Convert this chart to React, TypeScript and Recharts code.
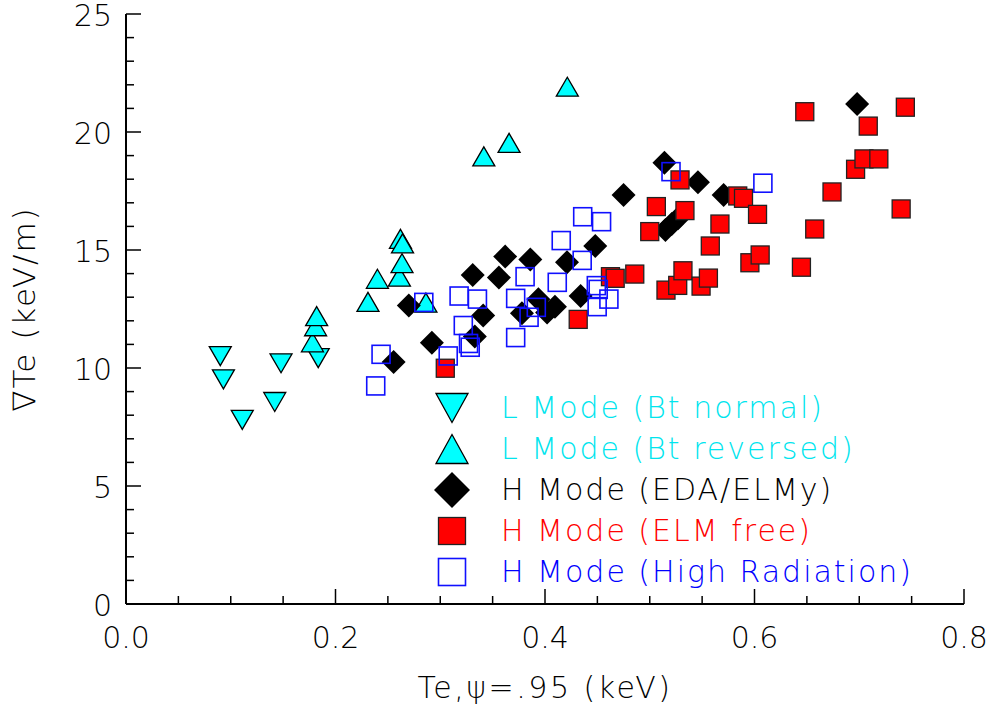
import React from 'react';
import { ScatterChart, Scatter, XAxis, YAxis, Legend } from 'recharts';

// L mode, Bt normal (down triangles)
const lModeNormal = [
  { x: 0.090, y: 10.5 }, { x: 0.093, y: 9.52 }, { x: 0.111, y: 7.8 },
  { x: 0.142, y: 8.56 }, { x: 0.148, y: 10.2 }, { x: 0.1835, y: 10.42 },
];

// L mode, Bt reversed (up triangles)
const lModeReversed = [
  { x: 0.178, y: 11.09 }, { x: 0.181, y: 11.77 }, { x: 0.182, y: 12.2 },
  { x: 0.231, y: 12.8 }, { x: 0.240, y: 13.78 }, { x: 0.261, y: 13.87 },
  { x: 0.2635, y: 14.44 }, { x: 0.262, y: 15.47 }, { x: 0.264, y: 15.28 },
  { x: 0.2863, y: 12.77 }, { x: 0.3416, y: 18.97 }, { x: 0.3657, y: 19.54 },
  { x: 0.4213, y: 21.92 },
];

// H mode EDA / ELMy (black diamonds)
const hModeEda = [
  { x: 0.2555, y: 10.25 }, { x: 0.27, y: 12.65 }, { x: 0.292, y: 11.07 },
  { x: 0.333, y: 11.33 }, { x: 0.341, y: 12.22 }, { x: 0.331, y: 13.94 },
  { x: 0.356, y: 13.83 }, { x: 0.362, y: 14.72 }, { x: 0.378, y: 12.32 },
  { x: 0.386, y: 14.6 }, { x: 0.3937, y: 12.91 }, { x: 0.402, y: 12.35 },
  { x: 0.4095, y: 12.6 }, { x: 0.421, y: 14.48 }, { x: 0.434, y: 13.05 },
  { x: 0.448, y: 15.17 }, { x: 0.475, y: 17.33 }, { x: 0.514, y: 18.7 },
  { x: 0.515, y: 15.85 }, { x: 0.521, y: 16.1 }, { x: 0.527, y: 16.35 },
  { x: 0.546, y: 17.87 }, { x: 0.5705, y: 17.33 }, { x: 0.698, y: 21.19 },
];

// H mode ELM free (red squares)
const hModeElmFree = [
  { x: 0.3048, y: 9.99 }, { x: 0.4317, y: 12.06 }, { x: 0.4625, y: 13.87 },
  { x: 0.467, y: 13.8 }, { x: 0.4857, y: 13.98 }, { x: 0.5, y: 15.78 },
  { x: 0.5063, y: 16.84 }, { x: 0.5155, y: 13.3 }, { x: 0.5267, y: 13.5 },
  { x: 0.5289, y: 17.97 }, { x: 0.5317, y: 14.12 }, { x: 0.5336, y: 16.67 },
  { x: 0.549, y: 13.47 }, { x: 0.556, y: 13.81 }, { x: 0.5578, y: 15.17 },
  { x: 0.567, y: 16.1 }, { x: 0.584, y: 17.29 }, { x: 0.5895, y: 17.19 },
  { x: 0.5956, y: 14.46 }, { x: 0.6029, y: 16.51 }, { x: 0.6054, y: 14.79 },
  { x: 0.6448, y: 14.27 }, { x: 0.648, y: 20.86 }, { x: 0.6575, y: 15.89 },
  { x: 0.674, y: 17.46 }, { x: 0.6965, y: 18.42 }, { x: 0.7045, y: 18.86 },
  { x: 0.7086, y: 20.25 }, { x: 0.7187, y: 18.86 }, { x: 0.74, y: 16.74 },
  { x: 0.744, y: 21.05 },
];

// H mode high radiation (open blue squares)
const hModeHighRad = [
  { x: 0.2384, y: 9.24 }, { x: 0.2435, y: 10.58 }, { x: 0.2843, y: 12.78 },
  { x: 0.3076, y: 10.51 }, { x: 0.318, y: 13.05 }, { x: 0.3355, y: 12.92 },
  { x: 0.322, y: 11.8 }, { x: 0.327, y: 11.04 }, { x: 0.3286, y: 10.88 },
  { x: 0.372, y: 12.95 }, { x: 0.381, y: 13.87 }, { x: 0.3917, y: 12.57 },
  { x: 0.3848, y: 12.15 }, { x: 0.372, y: 11.29 }, { x: 0.4117, y: 13.63 },
  { x: 0.4155, y: 15.4 }, { x: 0.4355, y: 14.56 }, { x: 0.436, y: 16.41 },
  { x: 0.454, y: 16.2 }, { x: 0.449, y: 13.49 }, { x: 0.4508, y: 13.33 },
  { x: 0.461, y: 12.92 }, { x: 0.4498, y: 12.6 }, { x: 0.5203, y: 18.32 },
  { x: 0.608, y: 17.83 },
];

const xTicks = [0, 0.05, 0.1, 0.15, 0.2, 0.25, 0.3, 0.35, 0.4, 0.45, 0.5, 0.55, 0.6, 0.65, 0.7, 0.75, 0.8];
const xMajor = [0, 0.2, 0.4, 0.6, 0.8];
const yTicks = [0, 1, 2, 3, 4, 5, 6, 7, 8, 9, 10, 11, 12, 13, 14, 15, 16, 17, 18, 19, 20, 21, 22, 23, 24, 25];
const yMajor = [0, 5, 10, 15, 20, 25];

const legendRows = [
  { key: 'down', label: 'L Mode (Bt normal)', color: '#00e5ee' },
  { key: 'up', label: 'L Mode (Bt reversed)', color: '#00e5ee' },
  { key: 'diamond', label: 'H Mode (EDA/ELMy)', color: '#000000' },
  { key: 'red', label: 'H Mode (ELM free)', color: '#ff0000' },
  { key: 'blue', label: 'H Mode (High Radiation)', color: '#0000ff' },
];

const FONT = '"DejaVu Sans", sans-serif';
const CYAN = '#00ffff';

const isMajor = (v: number, list: number[]) => list.some((m) => Math.abs(m - v) < 1e-6);

function DownTri({ cx, cy, w = 22, h = 19 }: any) {
  return <polygon points={`${cx - w / 2},${cy - h / 2} ${cx + w / 2},${cy - h / 2} ${cx},${cy + h / 2}`} fill={CYAN} stroke="#000" strokeWidth={1.3} />;
}
function UpTri({ cx, cy, w = 22, h = 19 }: any) {
  return <polygon points={`${cx - w / 2},${cy + h / 2} ${cx + w / 2},${cy + h / 2} ${cx},${cy - h / 2}`} fill={CYAN} stroke="#000" strokeWidth={1.3} />;
}
function Diamond({ cx, cy, r = 12 }: any) {
  return <polygon points={`${cx},${cy - r} ${cx + r},${cy} ${cx},${cy + r} ${cx - r},${cy}`} fill="#000" />;
}
function RedSq({ cx, cy, s = 18 }: any) {
  return <rect x={cx - s / 2} y={cy - s / 2} width={s} height={s} fill="#ff0000" stroke="#222" strokeWidth={1.3} />;
}
function BlueSq({ cx, cy, s = 18 }: any) {
  return <rect x={cx - s / 2} y={cy - s / 2} width={s} height={s} fill="none" stroke="#1010ff" strokeWidth={1.6} />;
}

function BottomTick({ x, y, payload }: any) {
  const major = isMajor(payload.value, xMajor);
  return (
    <g>
      <line x1={x} x2={x} y1={y} y2={y - (major ? 15 : 8)} stroke="#000" strokeWidth={1.5} />
      {major && (
        <text x={x} y={y + 44} textAnchor="middle" fontSize={30} fontFamily={FONT} fontWeight={200} fill="#000">
          {payload.value.toFixed(1)}
        </text>
      )}
    </g>
  );
}
function TopTick({ x, y, payload }: any) {
  const major = isMajor(payload.value, xMajor);
  return <line x1={x} x2={x} y1={y} y2={y + (major ? 15 : 8)} stroke="#000" strokeWidth={1.5} />;
}
function LeftTick({ x, y, payload }: any) {
  const major = isMajor(payload.value, yMajor);
  return (
    <g>
      <line x1={x} x2={x + (major ? 15 : 8)} y1={y} y2={y} stroke="#000" strokeWidth={1.5} />
      {major && (
        <text x={x - 14} y={y + 12} textAnchor="end" fontSize={30} fontFamily={FONT} fontWeight={200} fill="#000">
          {payload.value}
        </text>
      )}
    </g>
  );
}
function RightTick({ x, y, payload }: any) {
  const major = isMajor(payload.value, yMajor);
  return <line x1={x} x2={x - (major ? 15 : 8)} y1={y} y2={y} stroke="#000" strokeWidth={1.5} />;
}

function LegendMarker({ kind }: { kind: string }) {
  if (kind === 'down') return <DownTri cx={22} cy={20} w={32} h={29} />;
  if (kind === 'up') return <UpTri cx={22} cy={20} w={32} h={29} />;
  if (kind === 'diamond') return <Diamond cx={22} cy={20} r={18} />;
  if (kind === 'red') return <RedSq cx={22} cy={20} s={27} />;
  return <BlueSq cx={22} cy={20} s={27} />;
}

function renderLegend() {
  return (
    <div style={{ fontFamily: FONT, fontWeight: 200 }}>
      {legendRows.map((r) => (
        <div key={r.key} style={{ display: 'flex', alignItems: 'center', height: 41 }}>
          <svg width={44} height={40} style={{ overflow: 'visible' }}>
            <LegendMarker kind={r.key} />
          </svg>
          <span style={{ color: r.color, fontSize: 30, letterSpacing: 2, marginLeft: 27, whiteSpace: 'nowrap' }}>{r.label}</span>
        </div>
      ))}
    </div>
  );
}

export default function App() {
  return (
    <div style={{ position: 'absolute', left: 0, top: 0, width: 991, height: 706, background: '#fff' }}>
      <ScatterChart width={991} height={706} margin={{ top: 14, right: 27, bottom: 0, left: 0 }}>
        <XAxis
          type="number" dataKey="x" domain={[0, 0.8]} ticks={xTicks} interval={0} allowDataOverflow
          height={102} tickSize={0} tickMargin={0} tick={<BottomTick />} tickLine={false}
          axisLine={{ stroke: '#000', strokeWidth: 2 }}
          label={{ value: 'Te,ψ=.95 (keV)', position: 'insideBottom', offset: 8, fontSize: 30, fontFamily: FONT, fontWeight: 200, fill: '#000', style: { letterSpacing: 2.5 } }}
        />
        <XAxis
          xAxisId="top" orientation="top" type="number" domain={[0, 0.8]} ticks={xTicks} interval={0} allowDataOverflow
          height={0} tickSize={0} tickMargin={0} tick={<TopTick />} tickLine={false}
          axisLine={{ stroke: '#000', strokeWidth: 2 }}
        />
        <YAxis
          type="number" dataKey="y" domain={[0, 25]} ticks={yTicks} interval={0} allowDataOverflow
          width={126} tickSize={0} tickMargin={0} tick={<LeftTick />} tickLine={false}
          axisLine={{ stroke: '#000', strokeWidth: 2 }}
          label={{ value: '∇Te (keV/m)', angle: -90, position: 'insideLeft', offset: 24, fontSize: 31, fontFamily: FONT, fontWeight: 200, fill: '#000', style: { textAnchor: 'middle', letterSpacing: 2 } }}
        />
        <YAxis
          yAxisId="right" orientation="right" type="number" domain={[0, 25]} ticks={yTicks} interval={0} allowDataOverflow
          width={0} tickSize={0} tickMargin={0} tick={<RightTick />} tickLine={false}
          axisLine={{ stroke: '#000', strokeWidth: 2 }}
        />
        <Legend
          layout="vertical" align="center" verticalAlign="middle" content={renderLegend}
          wrapperStyle={{ left: 430, top: 387, width: 520 }}
        />
        <Scatter data={lModeNormal} isAnimationActive={false} shape={(p: any) => <DownTri cx={p.cx} cy={p.cy} />} />
        <Scatter data={lModeReversed} isAnimationActive={false} shape={(p: any) => <UpTri cx={p.cx} cy={p.cy} />} />
        <Scatter data={hModeEda} isAnimationActive={false} shape={(p: any) => <Diamond cx={p.cx} cy={p.cy} />} />
        <Scatter data={hModeElmFree} isAnimationActive={false} shape={(p: any) => <RedSq cx={p.cx} cy={p.cy} />} />
        <Scatter data={hModeHighRad} isAnimationActive={false} shape={(p: any) => <BlueSq cx={p.cx} cy={p.cy} />} />
      </ScatterChart>
    </div>
  );
}
